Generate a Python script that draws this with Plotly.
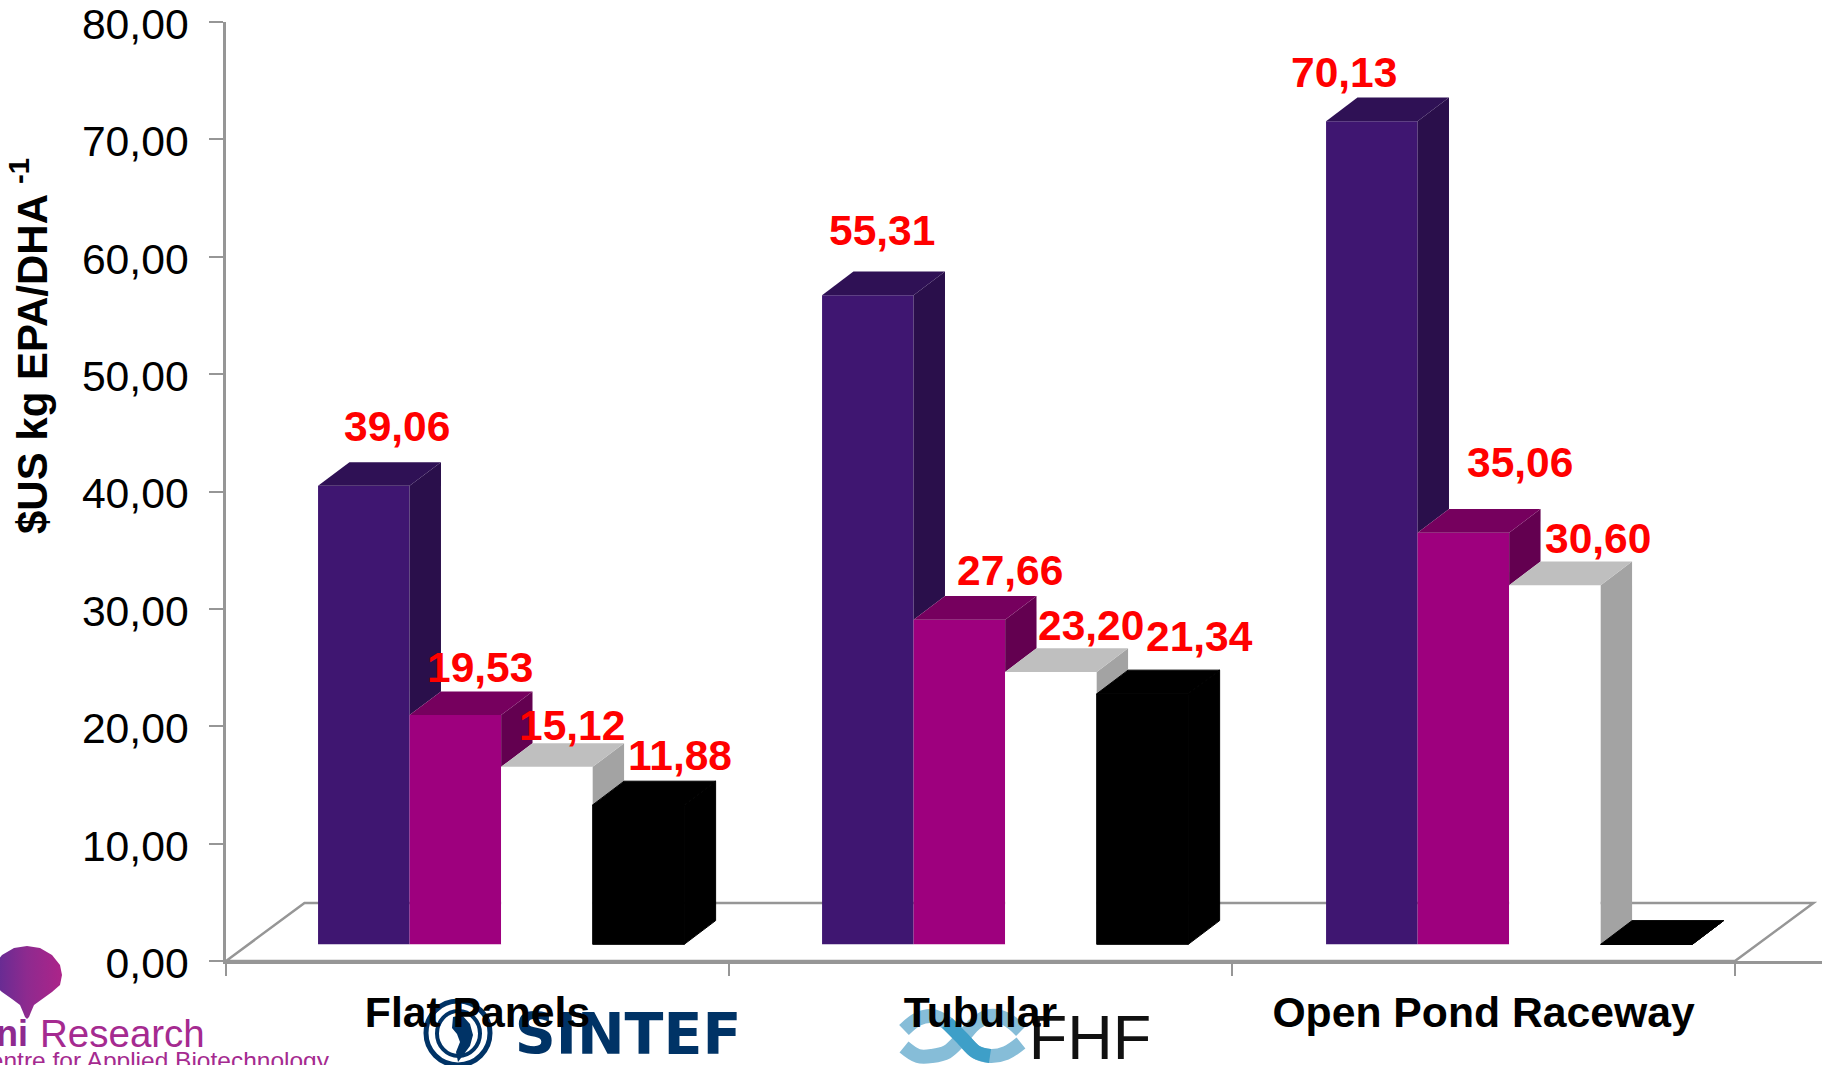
import plotly.graph_objects as go

# ---- data -------------------------------------------------------------
categories = ["Flat Panels", "Tubular", "Open Pond Raceway"]
series_a = [39.06, 55.31, 70.13]
series_b = [19.53, 27.66, 35.06]
series_c = [15.12, 23.20, 30.60]
series_d = [11.88, 21.34, 0.0]
all_series = [series_a, series_b, series_c, series_d]
y_ticks = [0, 10, 20, 30, 40, 50, 60, 70, 80]
y_title = "$US kg EPA/DHA <sup>-1</sup>"

# ---- style ------------------------------------------------------------
FRONT = ["#3F1671", "#9E007E", "#FFFFFF", "#000000"]
TOP = ["#2F1155", "#76005E", "#BFBFBF", "#000000"]
SIDE = ["#2A0F4B", "#630050", "#A3A3A3", "#000000"]
AXIS = "#969696"
FONT = "Liberation Sans, Arial, sans-serif"
W, H = 1822, 1065
L, Y_TOP, Y_ZERO = 226, 22, 961
PX_X = 503.0            # pixels per category
PX_Y = (Y_ZERO - Y_TOP) / 80  # pixels per value unit
GROUP_START = 0.183
GROUP_STEP = 1.002
BAR_W = 0.182
DEPTH_X = 0.0624
DEPTH_Y = 2.02
FLOOR_BASE = 1.42       # bars stand on the floor, in front of the back edge
FLOOR_X = 0.156
FLOOR_Y = 4.94
X_MAX = (W - L) / PX_X
# label nudges from bar-top centre, in pixels (dx, dy up)
NUDGE = [
    [(33, 59), (14, 65), (-28, 49)],
    [(25, 48), (51, 49), (57, 70)],
    [(25, 41), (40, 47), (43, 47)],
    [(42, 49), (57, 57), None],
]

fig = go.Figure()

# ---- logos: a full-page hidden subplot in page pixels, drawn first so the chart's axis labels sit on top ----
drop_px = [(27, 946), (40, 948), (52, 955), (60, 965), (62, 975), (60, 985), (52, 992), (42, 999),
           (34, 1005), (31, 1012), (29, 1017), (27, 1019), (25, 1017), (23, 1012), (20, 1005), (12, 999), (2, 992),
           (-6, 985), (-8, 975), (-6, 965), (2, 955), (14, 948), (27, 946)]
fig.add_trace(go.Scatter(
    x=[p[0] for p in drop_px], y=[p[1] for p in drop_px], mode="lines", xaxis="x", yaxis="y",
    line=dict(width=0), fill="toself", hoverinfo="skip",
    fillgradient=dict(type="horizontal", colorscale=[[0, "#5E2C94"], [0.5, "#8E2A8F"], [1, "#AC2489"]]),
))


def text_logo(px, py, txt, size, color, pos, family=FONT, bold=False):
    fig.add_trace(go.Scatter(
        x=[px], y=[py], mode="text", text=[f"<b>{txt}</b>" if bold else txt], xaxis="x", yaxis="y",
        textposition=pos, textfont=dict(size=size, color=color, family=family), hoverinfo="skip",
    ))


text_logo(28, 1037, "Uni", 36, "#8E2A8F", "middle left", bold=True)
text_logo(40, 1037, "Research", 38.5, "#A52A90", "middle right")
text_logo(329, 1063, "Centre for Applied Biotechnology", 24.5, "#A52A90", "middle left")
text_logo(628, 1040, "SINTEF", 57, "#003366", "middle center", family="DejaVu Sans", bold=True)

blob_px = [(453, 1017), (462, 1015), (470, 1024), (473, 1035), (470, 1046), (462, 1056), (458, 1062),
           (456, 1052), (460, 1042), (457, 1034), (452, 1028), (453, 1017)]
fig.add_trace(go.Scatter(
    x=[p[0] for p in blob_px], y=[p[1] for p in blob_px], mode="lines", xaxis="x", yaxis="y",
    line=dict(width=0), fill="toself", fillcolor="#003366", hoverinfo="skip",
))

wave_a = [(904, 1030), (918, 1019), (932, 1016), (947, 1023), (962, 1038), (976, 1052), (990, 1056), (1006, 1053), (1021, 1043)]
wave_b = [(904, 1047), (918, 1056), (932, 1056), (947, 1052), (962, 1038), (976, 1023), (990, 1016), (1006, 1019), (1021, 1031)]
wave_c = [(947, 1023), (962, 1038), (976, 1052), (990, 1056)]
for wave, col in ((wave_b, "#86BDD8"), (wave_a, "#86BDD8"), (wave_c, "#3E9FC8")):
    fig.add_trace(go.Scatter(
        x=[p[0] for p in wave], y=[p[1] for p in wave], mode="lines", xaxis="x", yaxis="y",
        line=dict(width=14, color=col, shape="spline"), hoverinfo="skip",
    ))
text_logo(1090, 1043, "FHF", 63, "#111111", "middle center")

# ---- bars -------------------------------------------------------------
for i, vals in enumerate(all_series):
    xs = [g * GROUP_STEP + GROUP_START + i * BAR_W for g in range(len(categories))]
    edge = 1 if FRONT[i] == "#000000" else 0
    fig.add_trace(go.Bar(
        x=xs, y=vals, base=FLOOR_BASE, width=BAR_W, offset=0, xaxis="x2", yaxis="y2",
        marker=dict(color=FRONT[i], line=dict(width=edge, color=FRONT[i])), showlegend=False,
    ))

for i, vals in enumerate(all_series):
    next_vals = all_series[i + 1] if i + 1 < len(all_series) else [0.0] * len(vals)
    seam = 1 if FRONT[i] == "#000000" else 0
    for g, v in enumerate(vals):
        x0 = g * GROUP_STEP + GROUP_START + i * BAR_W
        x1 = x0 + BAR_W
        top = v + FLOOR_BASE
        low = next_vals[g] + FLOOR_BASE
        fig.add_trace(go.Scatter(
            x=[x1, x1 + DEPTH_X, x1 + DEPTH_X, x1, x1],
            y=[top, top + DEPTH_Y, low + DEPTH_Y, low, top], xaxis="x2", yaxis="y2",
            mode="lines", line=dict(width=seam, color=SIDE[i]), fill="toself", fillcolor=SIDE[i], hoverinfo="skip",
        ))
        fig.add_trace(go.Scatter(
            x=[x0, x1, x1 + DEPTH_X, x0 + DEPTH_X, x0],
            y=[top, top, top + DEPTH_Y, top + DEPTH_Y, top], xaxis="x2", yaxis="y2",
            mode="lines", line=dict(width=seam, color=TOP[i]), fill="toself", fillcolor=TOP[i], hoverinfo="skip",
        ))

# ---- value labels -----------------------------------------------------
annotations = []
for i, vals in enumerate(all_series):
    for g, v in enumerate(vals):
        if NUDGE[i][g] is None:
            continue
        annotations.append(dict(
            x=g * GROUP_STEP + GROUP_START + (i + 0.5) * BAR_W, y=v + FLOOR_BASE, xref="x2", yref="y2",
            text=f"<b>{v:.2f}</b>".replace(".", ","), showarrow=False,
            xanchor="center", yanchor="middle",
            xshift=NUDGE[i][g][0], yshift=NUDGE[i][g][1],
            font=dict(size=42.5, color="#FF0000", family=FONT),
        ))
annotations.append(dict(
    x=29, y=346, xref="x", yref="y", text=f"<b>{y_title}</b>",
    textangle=-90, showarrow=False, xanchor="center", yanchor="middle",
    font=dict(size=42, color="#000000", family=FONT),
))

# ---- floor and logo rings ---------------------------------------------
floor_path = (f"M 0 0 L {FLOOR_X} {FLOOR_Y} L {len(categories) + FLOOR_X} {FLOOR_Y} "
              f"L {len(categories)} 0 Z")
shapes = [
    dict(type="path", path=floor_path, xref="x2", yref="y2", layer="below",
         line=dict(color=AXIS, width=2.5), fillcolor="#FFFFFF"),
    dict(type="circle", xref="x", yref="y", layer="below", x0=426, x1=490, y0=1001, y1=1065,
         line=dict(color="#003366", width=5), fillcolor="rgba(0,0,0,0)"),
    dict(type="circle", xref="x", yref="y", layer="below", x0=437, x1=480, y0=1011, y1=1056,
         line=dict(color="#003366", width=4), fillcolor="rgba(0,0,0,0)"),
]

fig.update_layout(
    width=W, height=H, margin=dict(l=0, r=0, t=0, b=0, autoexpand=False),
    paper_bgcolor="#FFFFFF", plot_bgcolor="rgba(0,0,0,0)", showlegend=False,
    barmode="overlay", separators=",.", annotations=annotations, shapes=shapes,
    font=dict(family=FONT, color="#000000"),
    xaxis=dict(domain=[0, 1], range=[0, W], visible=False, fixedrange=True),
    yaxis=dict(domain=[0, 1], range=[H, 0], visible=False, fixedrange=True),
    xaxis2=dict(
        domain=[L / W, 1], anchor="y2", range=[0, X_MAX], showgrid=False, zeroline=False,
        showline=True, linecolor=AXIS, linewidth=2.5,
        tickmode="array", tickvals=[g + 0.5 for g in range(len(categories))],
        ticktext=[f"<b>{c}</b>" for c in categories], ticks="", ticklabelstandoff=12,
        ticklabeloverflow="allow", tickfont=dict(size=42.7, color="#000000", family=FONT),
        minor=dict(tickmode="array", tickvals=list(range(len(categories) + 1)), ticks="outside",
                   ticklen=12, tickwidth=2, tickcolor=AXIS, showgrid=False),
    ),
    yaxis2=dict(
        domain=[(H - Y_ZERO) / H, (H - Y_TOP) / H], anchor="x2", range=[0, 80], showgrid=False,
        zeroline=False, showline=True, linecolor=AXIS, linewidth=2.5,
        tickmode="array", tickvals=y_ticks, tickformat=".2f", ticks="outside", ticklen=14, tickwidth=2,
        tickcolor=AXIS, ticklabelstandoff=12, ticklabelshift=2, ticklabeloverflow="allow",
        tickfont=dict(size=42.7, color="#000000", family=FONT),
    ),
)

fig.write_html("out.html", post_script="document.body.style.margin='0';document.body.style.overflow='hidden';",
               config={"displayModeBar": False})
